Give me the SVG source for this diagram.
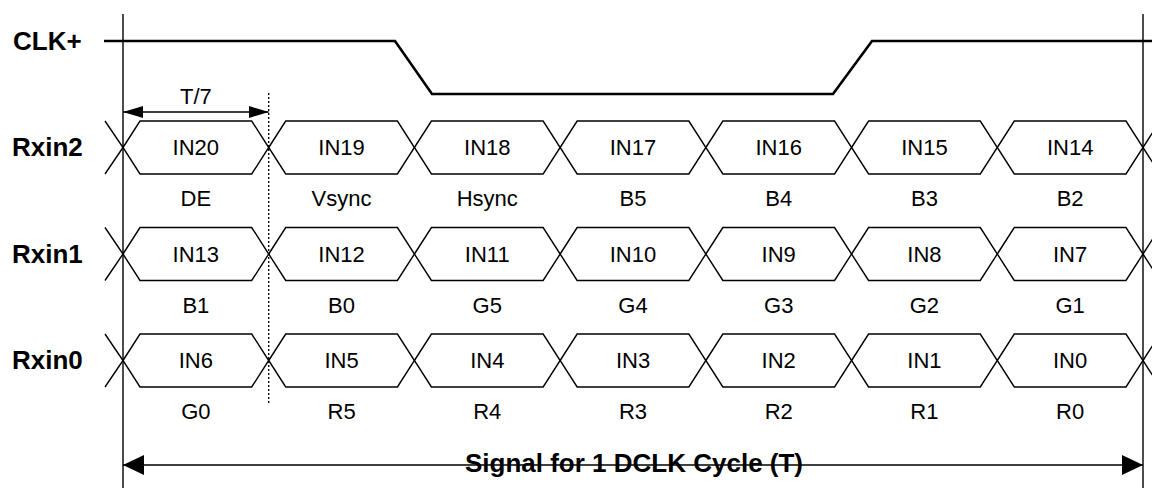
<svg xmlns="http://www.w3.org/2000/svg" width="1152" height="488" viewBox="0 0 1152 488">
<style>
.bg{fill:#ffffff}
.lbl{font-family:"Liberation Sans",Arial,sans-serif;font-weight:bold;font-size:26px;fill:#000}
.t{font-family:"Liberation Sans",Arial,sans-serif;font-size:22px;fill:#000;text-anchor:middle}
.tb{font-family:"Liberation Sans",Arial,sans-serif;font-weight:bold;font-size:26px;fill:#000;text-anchor:middle}
.hex{fill:none;stroke:#000;stroke-width:1.4}
.ln{fill:none;stroke:#000;stroke-width:1.4}
.clk{fill:none;stroke:#000;stroke-width:2.6;stroke-linejoin:miter}
.dot{fill:none;stroke:#000;stroke-width:1.3;stroke-dasharray:2 2}
</style>
<defs>
<polygon id="hex" class="hex" points="0,0 17,-26.5 128.71,-26.5 145.71,0 128.71,26.5 17,26.5"/>
<marker id="arrS" markerUnits="userSpaceOnUse" markerWidth="20" markerHeight="12" refX="20" refY="6" orient="auto-start-reverse">
<path d="M0,0 L20,6 L0,12 z" fill="#000"/>
</marker>
<marker id="arrL" markerUnits="userSpaceOnUse" markerWidth="21" markerHeight="20" refX="21" refY="10" orient="auto-start-reverse">
<path d="M0,0 L21,10 L0,20 z" fill="#000"/>
</marker>
</defs>
<rect class="bg" x="0" y="0" width="1152" height="488"/>

<g id="clk">
<text class="lbl" x="13" y="50">CLK+</text>
<polyline class="clk" points="104,41 395,41 432,94 833,94 872,41 1152,41"/>
</g>

<g id="rxin2">
<text class="lbl" x="12" y="156">Rxin2</text>
<path class="hex" d="M105,121 L123,147.5 L105,174 M1143,147.5 L1160,121 M1143,147.5 L1160,174"/>
<use href="#hex" x="123" y="147.5"/>
<use href="#hex" x="268.71" y="147.5"/>
<use href="#hex" x="414.43" y="147.5"/>
<use href="#hex" x="560.14" y="147.5"/>
<use href="#hex" x="705.86" y="147.5"/>
<use href="#hex" x="851.57" y="147.5"/>
<use href="#hex" x="997.29" y="147.5"/>
<text class="t" x="195.86" y="155">IN20</text>
<text class="t" x="341.57" y="155">IN19</text>
<text class="t" x="487.29" y="155">IN18</text>
<text class="t" x="633" y="155">IN17</text>
<text class="t" x="778.71" y="155">IN16</text>
<text class="t" x="924.43" y="155">IN15</text>
<text class="t" x="1070.14" y="155">IN14</text>
<text class="t" x="195.86" y="206">DE</text>
<text class="t" x="341.57" y="206">Vsync</text>
<text class="t" x="487.29" y="206">Hsync</text>
<text class="t" x="633" y="206">B5</text>
<text class="t" x="778.71" y="206">B4</text>
<text class="t" x="924.43" y="206">B3</text>
<text class="t" x="1070.14" y="206">B2</text>
</g>

<g id="rxin1">
<text class="lbl" x="12" y="262.5">Rxin1</text>
<path class="hex" d="M105,227.5 L123,254 L105,280.5 M1143,254 L1160,227.5 M1143,254 L1160,280.5"/>
<use href="#hex" x="123" y="254"/>
<use href="#hex" x="268.71" y="254"/>
<use href="#hex" x="414.43" y="254"/>
<use href="#hex" x="560.14" y="254"/>
<use href="#hex" x="705.86" y="254"/>
<use href="#hex" x="851.57" y="254"/>
<use href="#hex" x="997.29" y="254"/>
<text class="t" x="195.86" y="261.5">IN13</text>
<text class="t" x="341.57" y="261.5">IN12</text>
<text class="t" x="487.29" y="261.5">IN11</text>
<text class="t" x="633" y="261.5">IN10</text>
<text class="t" x="778.71" y="261.5">IN9</text>
<text class="t" x="924.43" y="261.5">IN8</text>
<text class="t" x="1070.14" y="261.5">IN7</text>
<text class="t" x="195.86" y="312.5">B1</text>
<text class="t" x="341.57" y="312.5">B0</text>
<text class="t" x="487.29" y="312.5">G5</text>
<text class="t" x="633" y="312.5">G4</text>
<text class="t" x="778.71" y="312.5">G3</text>
<text class="t" x="924.43" y="312.5">G2</text>
<text class="t" x="1070.14" y="312.5">G1</text>
</g>

<g id="rxin0">
<text class="lbl" x="12" y="369">Rxin0</text>
<path class="hex" d="M105,334 L123,360.5 L105,387 M1143,360.5 L1160,334 M1143,360.5 L1160,387"/>
<use href="#hex" x="123" y="360.5"/>
<use href="#hex" x="268.71" y="360.5"/>
<use href="#hex" x="414.43" y="360.5"/>
<use href="#hex" x="560.14" y="360.5"/>
<use href="#hex" x="705.86" y="360.5"/>
<use href="#hex" x="851.57" y="360.5"/>
<use href="#hex" x="997.29" y="360.5"/>
<text class="t" x="195.86" y="368">IN6</text>
<text class="t" x="341.57" y="368">IN5</text>
<text class="t" x="487.29" y="368">IN4</text>
<text class="t" x="633" y="368">IN3</text>
<text class="t" x="778.71" y="368">IN2</text>
<text class="t" x="924.43" y="368">IN1</text>
<text class="t" x="1070.14" y="368">IN0</text>
<text class="t" x="195.86" y="419">G0</text>
<text class="t" x="341.57" y="419">R5</text>
<text class="t" x="487.29" y="419">R4</text>
<text class="t" x="633" y="419">R3</text>
<text class="t" x="778.71" y="419">R2</text>
<text class="t" x="924.43" y="419">R1</text>
<text class="t" x="1070.14" y="419">R0</text>
</g>

<g id="connectors">
<line class="ln" x1="123" y1="14" x2="123" y2="488"/>
<line class="ln" x1="1143" y1="14" x2="1143" y2="488"/>
<line class="dot" x1="268.7" y1="93" x2="268.7" y2="403"/>
<line class="ln" x1="123" y1="112" x2="268.7" y2="112" marker-start="url(#arrS)" marker-end="url(#arrS)"/>
<line class="ln" x1="123" y1="465" x2="1143" y2="465" marker-start="url(#arrL)" marker-end="url(#arrL)"/>
</g>

<g id="labels">
<text class="t" x="195.86" y="104">T/7</text>
<text class="tb" x="634" y="472">Signal for 1 DCLK Cycle (T)</text>
</g>
</svg>
